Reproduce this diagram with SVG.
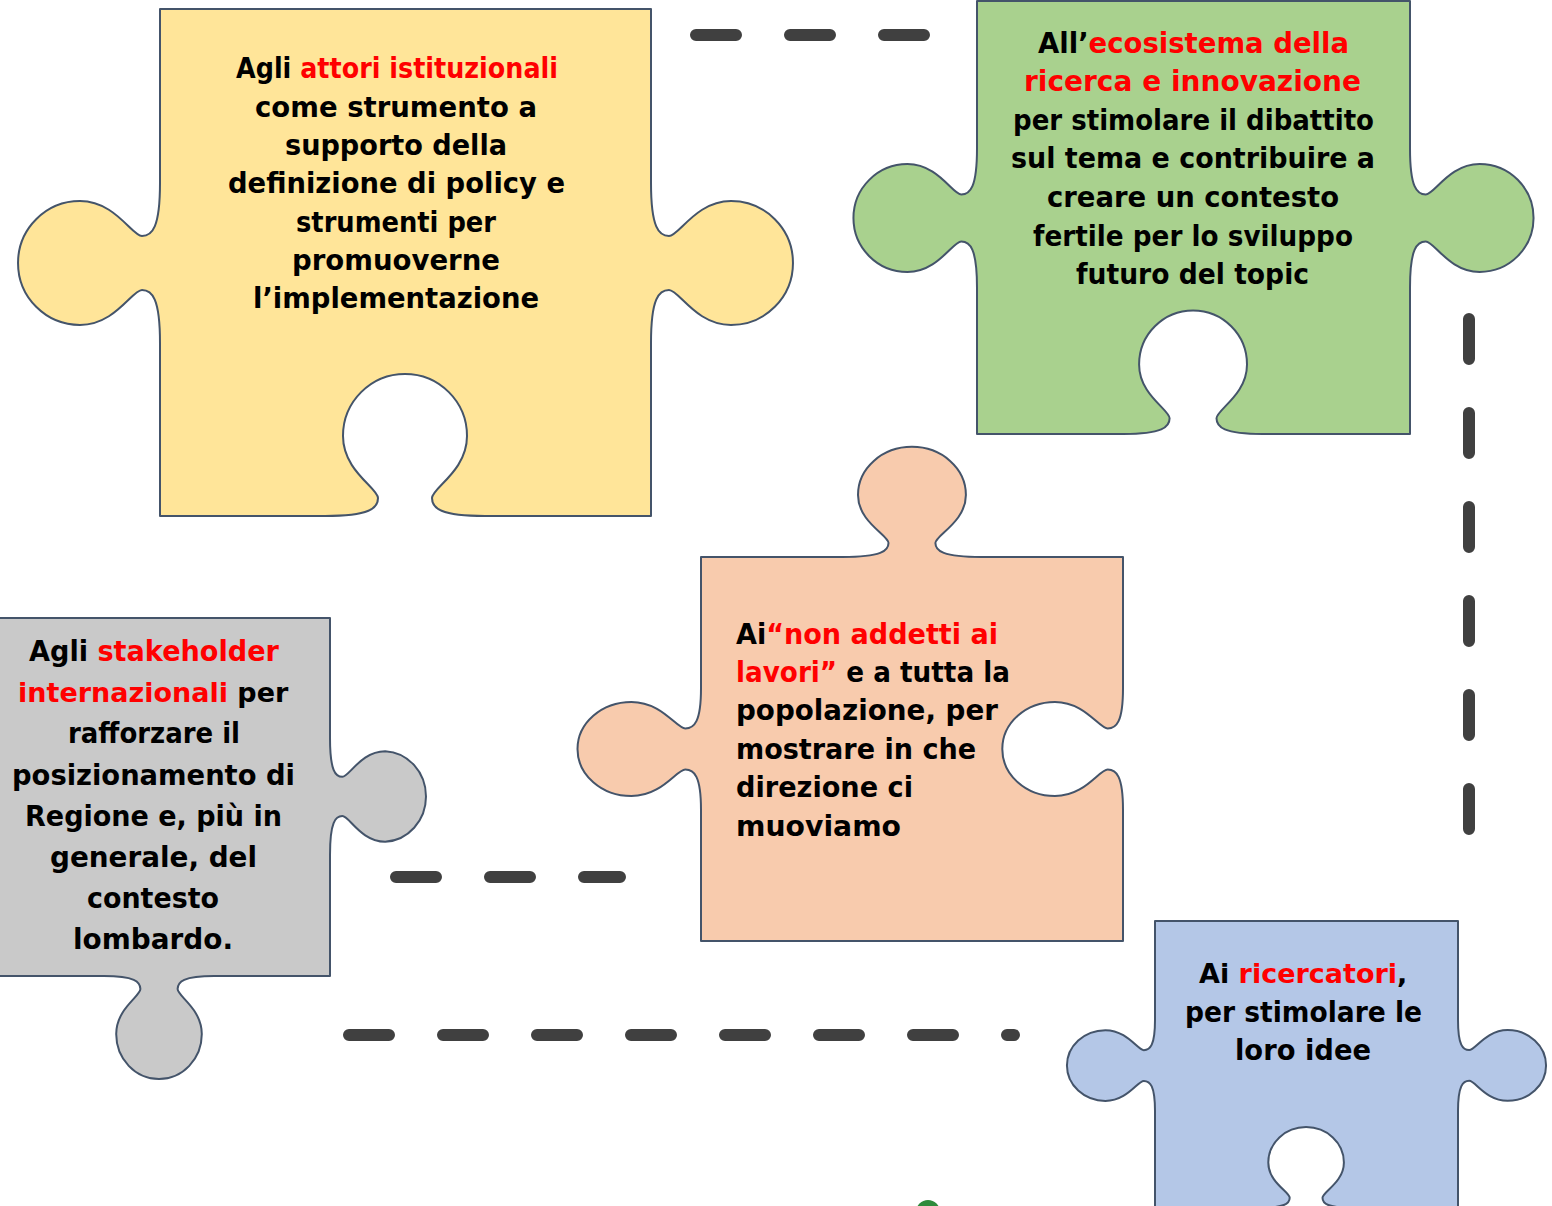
<svg xmlns="http://www.w3.org/2000/svg" width="1552" height="1206" viewBox="0 0 1552 1206">
<style>
.piece{stroke:#44546A;stroke-width:2;stroke-linejoin:round}
.t{font-family:"DejaVu Sans","Liberation Sans",sans-serif;font-weight:bold;font-size:28px;fill:#000}
.s27{font-size:27px}
.r{fill:#FF0000}
.dash{fill:none;stroke:#404040;stroke-width:12;stroke-linecap:round;stroke-dasharray:40 54}
</style>
<rect width="1552" height="1206" fill="#FFFFFF"/>

<g id="connectors">
<line class="dash" x1="696" y1="35" x2="924" y2="35"/>
<line class="dash" x1="1469" y1="319" x2="1469" y2="829"/>
<line class="dash" x1="396" y1="877" x2="620" y2="877"/>
<line class="dash" x1="349" y1="1035" x2="1014" y2="1035"/>
</g>

<g id="node-attori-istituzionali">
<path class="piece" fill="#FFE599" d="M160,9 H651 V183 c 0,45 8,53 18,53 c 10,0 27,-35 62,-35 a 62 62 0 0 1 0,124 c -35,0 -52,-35 -62,-35 c -10,0 -18,8 -18,53 V516 H485 c -45,0 -53,-8 -53,-18 c 0,-10 35,-27 35,-62 a 62 62 0 0 0 -124,0 c 0,35 35,52 35,62 c 0,10 -8,18 -53,18 H160 V343 c 0,-45 -8,-53 -18,-53 c -10,0 -27,35 -62,35 a 62 62 0 0 1 0,-124 c 35,0 52,35 62,35 c 10,0 18,-8 18,-53 Z"/>
<text class="t" x="236" y="78" textLength="322" lengthAdjust="spacingAndGlyphs">Agli <tspan class="r">attori istituzionali</tspan></text>
<text class="t" x="255" y="117" textLength="282" lengthAdjust="spacingAndGlyphs">come strumento a</text>
<text class="t" x="285" y="155" textLength="222" lengthAdjust="spacingAndGlyphs">supporto della</text>
<text class="t" x="228" y="193" textLength="337" lengthAdjust="spacingAndGlyphs">definizione di policy e</text>
<text class="t" x="296" y="232" textLength="200" lengthAdjust="spacingAndGlyphs">strumenti per</text>
<text class="t" x="292" y="270" textLength="208" lengthAdjust="spacingAndGlyphs">promuoverne</text>
<text class="t" x="253" y="308" textLength="286" lengthAdjust="spacingAndGlyphs">l’implementazione</text>
</g>

<g id="node-ecosistema">
<path class="piece" fill="#A9D18E" d="M977,1 H1410 V148.4 c 0,39.2 7,46.1 15.7,46.1 c 8.7,0 23.5,-30.5 53.9,-30.5 a 53.9 53.9 0 0 1 0,107.9 c -30.5,0 -45.2,-30.5 -53.9,-30.5 c -8.7,0 -15.7,7 -15.7,46.1 V434 H1262.6 c -39.2,0 -46.1,-7 -46.1,-15.7 c 0,-8.7 30.5,-23.5 30.5,-53.9 a 53.9 53.9 0 0 0 -107.9,0 c 0,30.5 30.5,45.2 30.5,53.9 c 0,8.7 -7,15.7 -46.1,15.7 H977 V287.6 c 0,-39.2 -7,-46.1 -15.7,-46.1 c -8.7,0 -23.5,30.5 -53.9,30.5 a 53.9 53.9 0 0 1 0,-107.9 c 30.5,0 45.2,30.5 53.9,30.5 c 8.7,0 15.7,-7 15.7,-46.1 Z"/>
<text class="t" x="1038" y="53" textLength="311" lengthAdjust="spacingAndGlyphs">All’<tspan class="r">ecosistema della</tspan></text>
<text class="t r" x="1024" y="91" textLength="337" lengthAdjust="spacingAndGlyphs">ricerca e innovazione</text>
<text class="t" x="1013" y="130" textLength="361" lengthAdjust="spacingAndGlyphs">per stimolare il dibattito</text>
<text class="t" x="1011" y="168" textLength="364" lengthAdjust="spacingAndGlyphs">sul tema e contribuire a</text>
<text class="t" x="1047" y="207" textLength="292" lengthAdjust="spacingAndGlyphs">creare un contesto</text>
<text class="t" x="1033" y="246" textLength="320" lengthAdjust="spacingAndGlyphs">fertile per lo sviluppo</text>
<text class="t" x="1076" y="284" textLength="233" lengthAdjust="spacingAndGlyphs">futuro del topic</text>
</g>

<g id="node-non-addetti">
<path class="piece" fill="#F8CBAD" d="M701,557 H842.4 c 39.2,0 46.1,-6.2 46.1,-14 c 0,-7.8 -30.5,-20.9 -30.5,-48.1 a 53.9 48.1 0 0 1 107.9,0 c 0,27.1 -30.5,40.3 -30.5,48.1 c 0,7.8 7,14 46.1,14 H1123 V688.2 c 0,34.2 -6.8,40.3 -15.3,40.3 c -8.5,0 -23,-26.6 -52.7,-26.6 a 52.7 47.1 0 0 0 0,94.2 c 29.8,0 44.2,-26.6 52.7,-26.6 c 8.5,0 15.3,6.1 15.3,40.3 V941 H701 V809.8 c 0,-34.2 -7,-40.3 -15.7,-40.3 c -8.7,0 -23.5,26.6 -53.9,26.6 a 53.9 47.1 0 0 1 0,-94.2 c 30.5,0 45.2,26.6 53.9,26.6 c 8.7,0 15.7,-6.1 15.7,-40.3 Z"/>
<text class="t" x="736" y="644" textLength="262" lengthAdjust="spacingAndGlyphs">Ai<tspan class="r">“non addetti ai</tspan></text>
<text class="t" x="736" y="682" textLength="274" lengthAdjust="spacingAndGlyphs"><tspan class="r">lavori”</tspan> e a tutta la</text>
<text class="t" x="736" y="720" textLength="262" lengthAdjust="spacingAndGlyphs">popolazione, per</text>
<text class="t" x="736" y="759" textLength="240" lengthAdjust="spacingAndGlyphs">mostrare in che</text>
<text class="t" x="736" y="797" textLength="177" lengthAdjust="spacingAndGlyphs">direzione ci</text>
<text class="t" x="736" y="836" textLength="165" lengthAdjust="spacingAndGlyphs">muoviamo</text>
</g>

<g id="node-stakeholder">
<path class="piece" fill="#C9C9C9" d="M-2,618 H330 V738.1 c 0,32.9 5.5,38.7 12.4,38.7 c 6.9,0 18.6,-25.6 42.8,-25.6 a 42.8 45.3 0 0 1 0,90.5 c -24.2,0 -35.9,-25.6 -42.8,-25.6 c -6.9,0 -12.4,5.8 -12.4,38.7 V976 H214.2 c -31.1,0 -36.6,5.8 -36.6,13.1 c 0,7.3 24.2,19.6 24.2,45 a 42.8 45 0 0 1 -85.6,0 c 0,-25.4 24.2,-37.7 24.2,-45 c 0,-7.3 -5.5,-13.1 -36.6,-13.1 H-2 Z"/>
<text class="t" x="29" y="661" textLength="250" lengthAdjust="spacingAndGlyphs">Agli <tspan class="r">stakeholder</tspan></text>
<text class="t s27" x="18" y="702"><tspan class="r">internazionali</tspan> per</text>
<text class="t" x="68" y="743" textLength="172" lengthAdjust="spacingAndGlyphs">rafforzare il</text>
<text class="t" x="12" y="785" textLength="283" lengthAdjust="spacingAndGlyphs">posizionamento di</text>
<text class="t" x="25" y="826" textLength="257" lengthAdjust="spacingAndGlyphs">Regione e, più in</text>
<text class="t" x="50" y="867" textLength="207" lengthAdjust="spacingAndGlyphs">generale, del</text>
<text class="t" x="87" y="908" textLength="132" lengthAdjust="spacingAndGlyphs">contesto</text>
<text class="t" x="73" y="949" textLength="160" lengthAdjust="spacingAndGlyphs">lombardo.</text>
</g>

<g id="node-ricercatori">
<path class="piece" fill="#B4C7E7" d="M1155,921 H1458 V1019.9 c 0,25.7 5,30.2 11.2,30.2 c 6.2,0 16.7,-20 38.4,-20 a 38.4 35.3 0 0 1 0,70.7 c -21.7,0 -32.2,-20 -38.4,-20 c -6.2,0 -11.2,4.6 -11.2,30.2 V1208 H1354.8 c -27.5,0 -32.3,-4.6 -32.3,-10.3 c 0,-5.7 21.4,-15.4 21.4,-35.3 a 37.8 35.3 0 0 0 -75.6,0 c 0,20 21.4,29.6 21.4,35.3 c 0,5.7 -4.9,10.3 -32.3,10.3 H1155 V1111.1 c 0,-25.7 -5,-30.2 -11.2,-30.2 c -6.2,0 -16.7,20 -38.4,20 a 38.4 35.3 0 0 1 0,-70.7 c 21.7,0 32.2,20 38.4,20 c 6.2,0 11.2,-4.6 11.2,-30.2 Z"/>
<text class="t s27" x="1199" y="983">Ai <tspan class="r">ricercatori</tspan>,</text>
<text class="t" x="1185" y="1022" textLength="237" lengthAdjust="spacingAndGlyphs">per stimolare le</text>
<text class="t" x="1235" y="1060" textLength="136" lengthAdjust="spacingAndGlyphs">loro idee</text>
</g>

<g id="logo-fragment">
<circle cx="928" cy="1212" r="12" fill="#2E8B3C"/>
</g>
</svg>
